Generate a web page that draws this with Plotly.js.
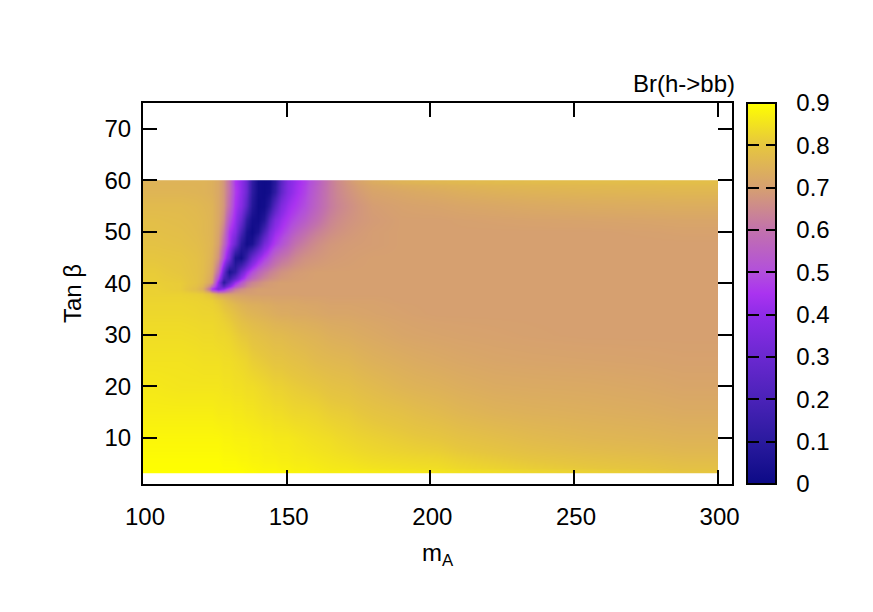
<!DOCTYPE html>
<html>
<head>
<meta charset="utf-8">
<script src="https://cdn.plot.ly/plotly-3.0.1.min.js"></script>
<style>
html,body{margin:0;padding:0;background:#fff}
.cbaxis path.ticks{stroke-dasharray:11 7 11}
</style>
</head>
<body>
<div id="chart" style="width:873px;height:612px"></div>
<script>
const mA = [100,115,122,124,126,128,130,132,134,136,138,140,142,144,146,148,150,153,156,160,165,170,180,190,200,220,250,300];
const tanBeta = [3,5,10,15,20,25,30,35,37,38,39,40,42,45,48,50,52,55,58,60];
const t3  = [.90,.90,.90,.90,.90,.90,.90,.90,.90,.895,.895,.89,.89,.89,.89,.885,.885,.88,.88,.875,.87,.87,.865,.86,.855,.84,.82,.80];
const t5  = [.895,.895,.895,.895,.895,.89,.89,.89,.885,.885,.88,.88,.875,.875,.875,.87,.87,.865,.865,.86,.855,.85,.84,.835,.83,.81,.79,.775];
const t10 = [.885,.885,.885,.885,.885,.88,.88,.875,.875,.875,.87,.87,.865,.865,.86,.86,.86,.855,.85,.845,.84,.83,.82,.81,.80,.78,.76,.75];
const t15 = [.87,.87,.87,.87,.865,.865,.865,.86,.86,.855,.855,.85,.845,.845,.84,.84,.835,.83,.83,.825,.815,.81,.795,.785,.77,.75,.74,.73];
const t20 = [.86,.855,.855,.855,.855,.85,.85,.845,.845,.84,.84,.835,.83,.825,.82,.82,.815,.81,.805,.80,.79,.785,.77,.755,.745,.73,.725,.715];
const t25 = [.85,.85,.845,.845,.845,.84,.84,.835,.83,.825,.815,.81,.805,.80,.795,.795,.79,.785,.78,.77,.765,.76,.745,.735,.725,.715,.71,.705];
const t30 = [.84,.84,.835,.835,.83,.83,.825,.815,.805,.80,.79,.785,.78,.775,.77,.77,.765,.76,.755,.75,.74,.735,.725,.715,.71,.705,.70,.70];
const t35 = [.83,.83,.825,.825,.82,.81,.80,.785,.77,.76,.755,.75,.745,.74,.735,.73,.73,.725,.725,.72,.715,.715,.71,.705,.70,.70,.70,.70];
const t37 = [.825,.825,.82,.815,.80,.78,.76,.745,.735,.73,.725,.725,.72,.72,.715,.715,.715,.715,.71,.71,.705,.705,.705,.70,.70,.70,.70,.70];
const t38 = [.82,.82,.81,.77,.71,.70,.70,.70,.70,.70,.70,.70,.70,.70,.70,.70,.70,.70,.70,.70,.70,.70,.70,.70,.70,.70,.70,.70];
const t39 = [.82,.81,.74,.45,.35,.40,.52,.62,.66,.68,.69,.70,.70,.70,.70,.70,.70,.70,.70,.70,.70,.70,.70,.70,.70,.70,.70,.70];
const t40 = [.815,.81,.77,.68,.40,.10,.25,.42,.52,.60,.64,.66,.68,.69,.695,.70,.70,.70,.70,.70,.70,.70,.70,.70,.70,.70,.70,.70];
const t42 = [.81,.80,.775,.72,.58,.30,.05,.12,.30,.42,.50,.56,.60,.63,.65,.67,.68,.69,.695,.70,.70,.70,.70,.70,.70,.70,.70,.70];
const t45 = [.80,.795,.775,.74,.67,.50,.34,.06,.03,.15,.30,.40,.47,.52,.57,.60,.62,.65,.67,.68,.69,.695,.70,.70,.70,.70,.70,.70];
const t48 = [.79,.785,.77,.75,.70,.58,.44,.30,.10,.02,.05,.18,.33,.41,.47,.51,.55,.60,.63,.66,.68,.69,.695,.70,.70,.70,.70,.70];
const t50 = [.785,.78,.765,.75,.71,.62,.46,.38,.20,.05,.01,.06,.20,.34,.42,.46,.50,.55,.59,.63,.66,.68,.695,.70,.70,.70,.70,.705];
const t52 = [.78,.775,.765,.75,.72,.66,.52,.42,.30,.12,.03,.02,.08,.24,.36,.42,.46,.50,.54,.59,.64,.67,.69,.70,.70,.705,.71,.715];
const t55 = [.77,.77,.76,.75,.72,.68,.58,.45,.38,.25,.08,.01,.02,.10,.24,.36,.42,.46,.50,.56,.62,.66,.695,.705,.71,.72,.73,.735];
const t58 = [.755,.755,.75,.74,.72,.68,.60,.47,.40,.30,.11,.02,.01,.03,.12,.27,.37,.43,.48,.55,.62,.67,.71,.72,.73,.745,.755,.76];
const t60 = [.75,.75,.75,.74,.72,.68,.60,.46,.40,.30,.12,.02,.01,.02,.10,.25,.36,.42,.47,.54,.62,.68,.73,.75,.76,.77,.775,.78];
const br = [t3,t5,t10,t15,t20,t25,t30,t35,t37,t38,t39,t40,t42,t45,t48,t50,t52,t55,t58,t60];

const paletteStops = [0,.111,.222,.333,.444,.5,.556,.667,.778,.889,1];
const paletteColors = ['#0c0a86','#2a1a9e','#4a22b8','#6a28d0','#8e2ce8','#aa33f0','#b24fdc','#c272ac','#d6a070','#e6c63f','#ffff00'];
const xTicks = [100,150,200,250,300];
const yTicks = [10,20,30,40,50,60,70];
const cbTicks = [0,.1,.2,.3,.4,.5,.6,.7,.8,.9];

function edges(a){
  const e=[a[0]];
  for(let i=1;i<a.length;i++) e.push((a[i-1]+a[i])/2);
  e.push(a[a.length-1]);
  return e;
}

const font = 'Liberation Sans, Arial, sans-serif';
const trace = {
  type:'heatmap', x:edges(mA), y:edges(tanBeta), z:br,
  zmin:0, zmax:.9, zsmooth:'best',
  colorscale:paletteStops.map((s,i)=>[s,paletteColors[i]]),
  colorbar:{
    x:(747-143)/589, xanchor:'left', xpad:0, y:0.5, yanchor:'middle', ypad:0,
    len:1, lenmode:'fraction', thickness:29, thicknessmode:'pixels',
    outlinecolor:'#000', outlinewidth:2,
    tickmode:'array', tickvals:cbTicks, ticktext:cbTicks.map(String),
    ticks:'inside', ticklen:29, tickcolor:'#000', tickwidth:2,
    tickfont:{family:font,size:24,color:'#000'}
  }
};
const axisBase = {
  showgrid:false, zeroline:false, showline:true, linecolor:'#000', linewidth:2,
  mirror:'ticks', ticks:'inside', ticklen:14, tickwidth:2, tickcolor:'#000',
  tickfont:{family:font,size:24,color:'#000'}, tickmode:'array'
};
const layout = {
  width:873, height:612, paper_bgcolor:'#fff', plot_bgcolor:'#fff',
  margin:{l:143,r:141,t:103,b:128},
  title:{text:'Br(h->bb)', x:735/873, xanchor:'right', xref:'container', y:1-84/612, yanchor:'middle',
         font:{family:font,size:24,color:'#000'}},
  xaxis:Object.assign({},axisBase,{range:[100,305],tickvals:xTicks,ticktext:xTicks.map(String),
    ticklabelstandoff:10, ticklabelshift:2,
    title:{text:'m<sub>A</sub>',font:{family:font,size:24,color:'#000'},standoff:15}}),
  yaxis:Object.assign({},axisBase,{range:[1,75],tickvals:yTicks,ticktext:yTicks.map(String),
    ticklabelstandoff:5,
    title:{text:'Tan β',font:{family:font,size:24,color:'#000'},standoff:16}})
};
Plotly.newPlot('chart',[trace],layout,{displayModeBar:false,staticPlot:true}).then(gd=>{
  gd.querySelectorAll('.cbaxis text').forEach(t=>{
    t.setAttribute('x', parseFloat(t.getAttribute('x')||0)+14);
  });
});
</script>
</body>
</html>
